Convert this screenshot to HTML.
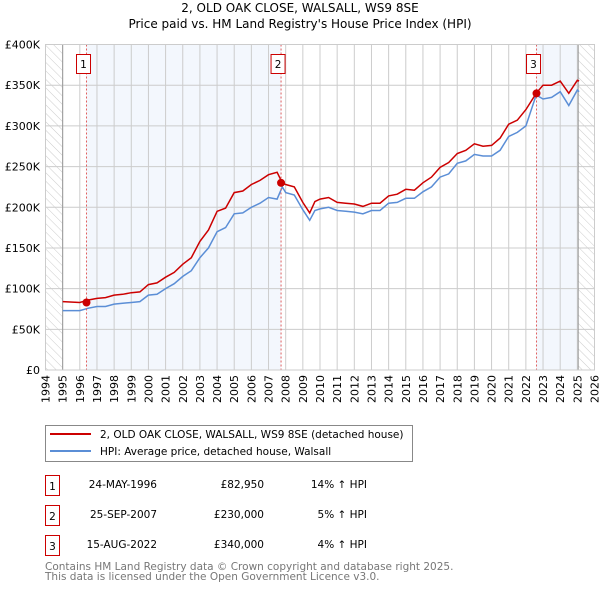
<!DOCTYPE html>
<html><head><meta charset="utf-8"><style>
body{margin:0;background:#fff;font-family:"DejaVu Sans","Liberation Sans",sans-serif;}
svg text{font-family:"DejaVu Sans","Liberation Sans",sans-serif;}
</style></head><body>
<svg id="c" width="600" height="590" viewBox="0 0 600 590" xmlns="http://www.w3.org/2000/svg">
<defs><pattern id="hatch" width="6" height="6" patternUnits="userSpaceOnUse" patternTransform="rotate(-45)"><line x1="0" y1="0" x2="0" y2="6" stroke="#ccc" stroke-width="1"/></pattern></defs>
<text x="300" y="12" text-anchor="middle" font-size="12">2, OLD OAK CLOSE, WALSALL, WS9 8SE</text>
<text x="300" y="28" text-anchor="middle" font-size="12">Price paid vs. HM Land Registry's House Price Index (HPI)</text>
<g id="plot"></g>
<g>
<rect x="45.5" y="425.5" width="367" height="36" fill="#fff" stroke="#888"/>
<line x1="50" y1="434" x2="91" y2="434" stroke="#cc0000" stroke-width="2"/>
<text x="100" y="438" font-size="10.5">2, OLD OAK CLOSE, WALSALL, WS9 8SE (detached house)</text>
<line x1="50" y1="451" x2="91" y2="451" stroke="#5b8ed6" stroke-width="2"/>
<text x="100" y="455" font-size="10.5">HPI: Average price, detached house, Walsall</text>
</g>
<g font-size="10.5">
<rect x="45.5" y="475.5" width="14" height="20" fill="#fff" stroke="#cc0000"/><text x="52.5" y="490" text-anchor="middle">1</text>
<text x="157" y="488" text-anchor="end">24-MAY-1996</text><text x="264" y="488" text-anchor="end">£82,950</text><text x="367" y="488" text-anchor="end">14% ↑ HPI</text>
<rect x="45.5" y="505.5" width="14" height="20" fill="#fff" stroke="#cc0000"/><text x="52.5" y="520" text-anchor="middle">2</text>
<text x="157" y="518" text-anchor="end">25-SEP-2007</text><text x="264" y="518" text-anchor="end">£230,000</text><text x="367" y="518" text-anchor="end">5% ↑ HPI</text>
<rect x="45.5" y="535.5" width="14" height="20" fill="#fff" stroke="#cc0000"/><text x="52.5" y="550" text-anchor="middle">3</text>
<text x="157" y="548" text-anchor="end">15-AUG-2022</text><text x="264" y="548" text-anchor="end">£340,000</text><text x="367" y="548" text-anchor="end">4% ↑ HPI</text>
</g>
<text x="45" y="570" font-size="10.5" fill="#777">Contains HM Land Registry data © Crown copyright and database right 2025.</text>
<text x="45" y="580" font-size="10.5" fill="#777">This data is licensed under the Open Government Licence v3.0.</text>
</svg>
<script>
const hpiYears=[1995,1996,1996.5,1997,1997.5,1998,1998.5,1999,1999.5,2000,2000.5,2001,2001.5,2002,2002.5,2003,2003.5,2004,2004.5,2005,2005.5,2006,2006.5,2007,2007.5,2007.8,2008,2008.5,2009,2009.4,2009.7,2010,2010.5,2011,2011.5,2012,2012.5,2013,2013.5,2014,2014.5,2015,2015.5,2016,2016.5,2017,2017.5,2018,2018.5,2019,2019.5,2020,2020.5,2021,2021.5,2022,2022.6,2023,2023.5,2024,2024.5,2025,2025.1];
const hpiValues=[73,73,76,78,78,81,82,83,84,92,93,100,106,115,122,138,150,170,175,192,193,200,205,212,210,225,218,215,197,184,196,198,200,196,195,194,192,196,196,205,206,211,211,219,225,237,241,254,257,265,263,263,270,287,292,300,338,333,335,342,325,344,342];
const redValues=[84,83,86,88,89,92,93,95,96,105,107,114,120,130,138,158,172,195,199,218,220,228,233,240,243,230,228,225,206,193,207,210,212,206,205,204,201,205,205,214,216,222,221,230,237,249,255,266,270,278,275,276,285,302,307,320,340,350,350,355,340,356,355];
const saleLabels=["1","2","3"];
const saleYears=[1996.39,2007.73,2022.62];
const salePrices=[82950,230000,340000];
const yTicks=[0,50,100,150,200,250,300,350,400];
const yTickLabels=["£0","£50K","£100K","£150K","£200K","£250K","£300K","£350K","£400K"];
const xTicks=[1994,1995,1996,1997,1998,1999,2000,2001,2002,2003,2004,2005,2006,2007,2008,2009,2010,2011,2012,2013,2014,2015,2016,2017,2018,2019,2020,2021,2022,2023,2024,2025,2026];
const X0=45.5,X1=594.5,Y0=370,Y1=44.5;
const xs=y=>X0+(y-1994)/32*(X1-X0);
const ys=v=>Y0-v/400*(Y0-Y1);
const NS="http://www.w3.org/2000/svg";
const g=document.getElementById('plot');
function mk(t,a){const e=document.createElementNS(NS,t);for(const k in a)e.setAttribute(k,a[k]);g.appendChild(e);return e;}
let e;
e=mk('rect',{x:X0,y:Y1,width:X1-X0,height:Y0-Y1,fill:'#fff'});


e=mk('rect',{x:xs(1994),y:Y1,width:xs(1995)-xs(1994),height:Y0-Y1,fill:'url(#hatch)'});


e=mk('rect',{x:xs(2025.05),y:Y1,width:xs(2026)-xs(2025.05),height:Y0-Y1,fill:'url(#hatch)'});


e=mk('rect',{x:xs(saleYears[0]),y:Y1,width:xs(saleYears[1])-xs(saleYears[0]),height:Y0-Y1,fill:'#eef3fc',opacity:0.7});


e=mk('rect',{x:xs(saleYears[2]),y:Y1,width:xs(2025.05)-xs(saleYears[2]),height:Y0-Y1,fill:'#eef3fc',opacity:0.7});


yTicks.forEach((t,i)=>{
 e=mk('line',{x1:X0,x2:X1,y1:ys(t),y2:ys(t),stroke:'#ccc','stroke-width':1});
 
 
 e=mk('text',{x:40,y:ys(t)+4,'text-anchor':'end','font-size':11});
 e.textContent=yTickLabels[i];
 
 
});
xTicks.forEach(t=>{
 e=mk('line',{x1:xs(t),x2:xs(t),y1:Y1,y2:Y0,stroke:'#ccc','stroke-width':1});
 
 
 e=mk('text',{x:xs(t)+4,y:375,'text-anchor':'end','font-size':11,transform:`rotate(-90 ${xs(t)+4} 375)`});
 e.textContent=t;
 
 
});
[1995,2025.05].forEach(t=>{
 e=mk('line',{x1:xs(t),x2:xs(t),y1:Y1,y2:Y0,stroke:'#999','stroke-width':1});
 
 
});
function path(vals){return hpiYears.map((y,i)=>(i?'L':'M')+xs(y).toFixed(1)+' '+ys(vals[i]).toFixed(1)).join(' ');}
e=mk('path',{d:path(hpiValues),fill:'none',stroke:'#5b8ed6','stroke-width':1.5});


e=mk('path',{d:path(redValues),fill:'none',stroke:'#cc0000','stroke-width':1.5});


saleYears.forEach((y,i)=>{
 e=mk('line',{x1:xs(y),x2:xs(y),y1:Y1,y2:Y0,stroke:'#e06060','stroke-width':1,'stroke-dasharray':'2,2'});
 
 
 e=mk('circle',{cx:xs(y),cy:ys(salePrices[i]/1000),r:4,fill:'#cc0000'});
 
 
 e=mk('rect',{x:xs(y)-10,y:54.5,width:14,height:19,fill:'#fff',stroke:'#cc0000'});
 
 
 e=mk('text',{x:xs(y)-3,y:68,'text-anchor':'middle','font-size':10.5});
 e.textContent=saleLabels[i];
 
 
});
e=mk('rect',{x:X0,y:Y1,width:X1-X0,height:Y0-Y1,fill:'none',stroke:'#ccc'});


</script>
</body></html>
